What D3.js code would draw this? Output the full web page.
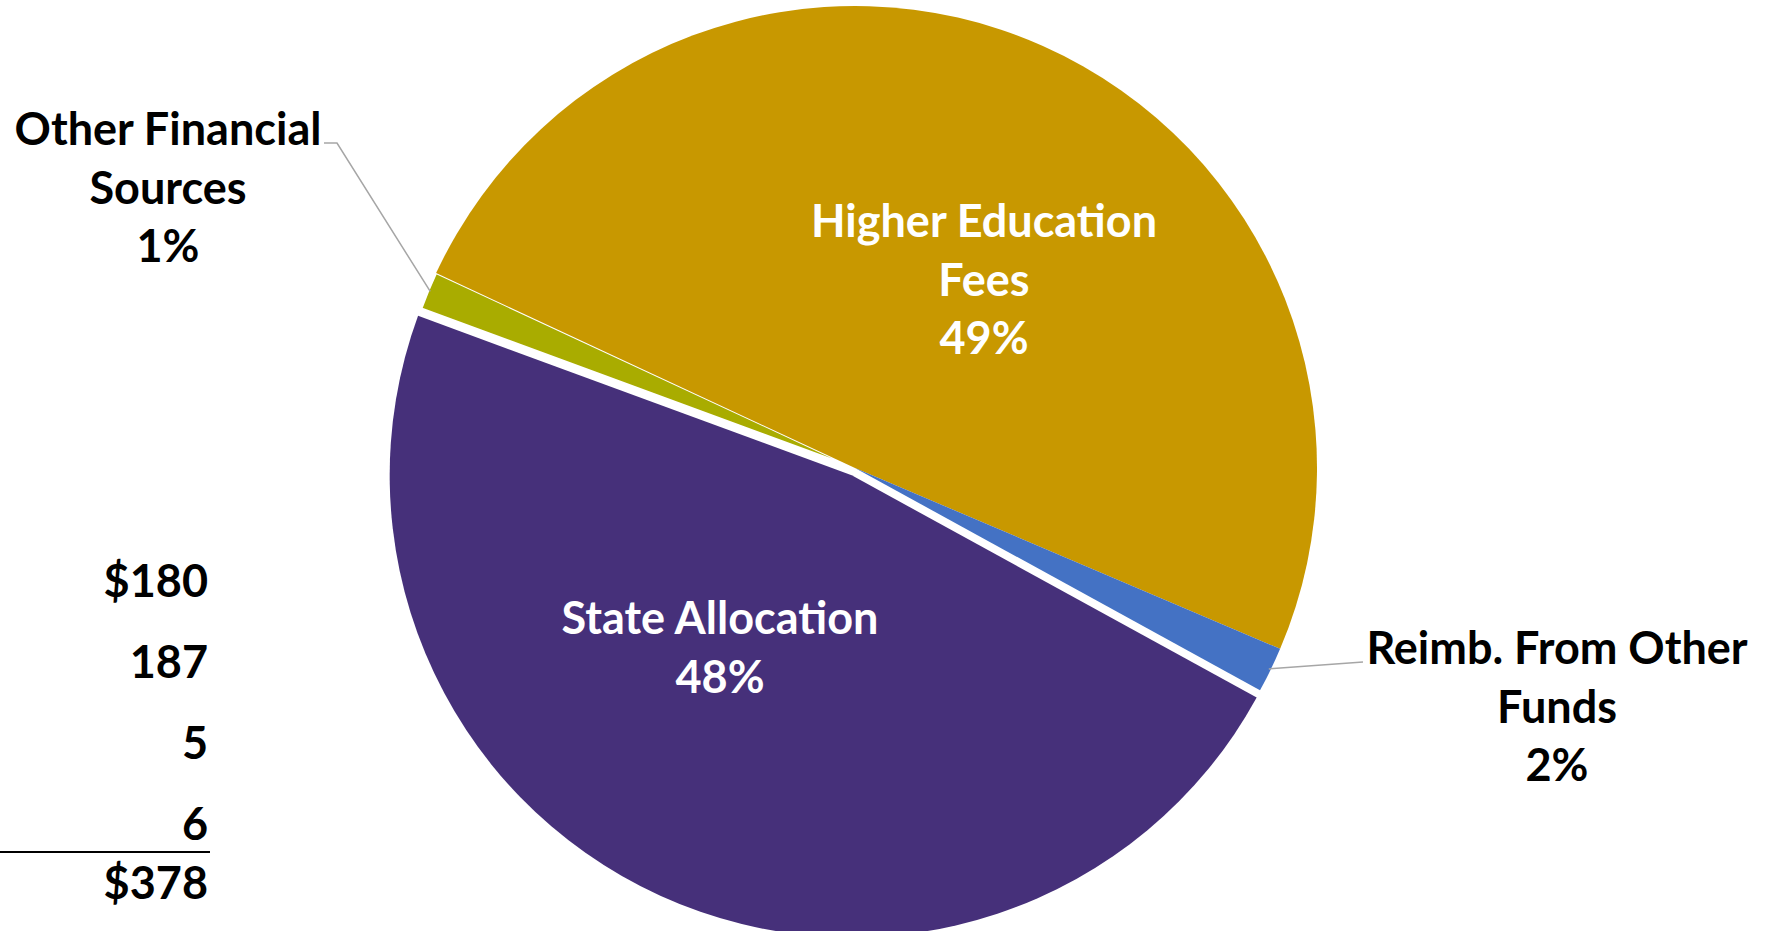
<!DOCTYPE html>
<html>
<head>
<meta charset="utf-8">
<script src="https://cdn.jsdelivr.net/npm/d3@7"></script>
<style>
  html, body { margin: 0; padding: 0; background: #fff; }
  svg { display: block; }
  text { font-family: Lato, "Open Sans", sans-serif; font-weight: 700; }
</style>
</head>
<body>
<svg id="chart" width="1775" height="931"></svg>
<script>
// slices, in drawing order (clockwise from the State Allocation edge)
const categories = ['State Allocation', 'Other Financial Sources', 'Higher Education Fees', 'Reimb. From Other Funds'];
const values = [180, 5, 187, 6];
const colors = ['#46307a', '#a9ac00', '#c89800', '#4472c4'];

// label lines shown for each slice
const labelLines = [
    ['State Allocation'],
    ['Other Financial', 'Sources'],
    ['Higher Education', 'Fees'],
    ['Reimb. From Other', 'Funds'],
];

// the small table on the left: same values, listed in this order
const tableOrder = ['State Allocation', 'Higher Education Fees', 'Other Financial Sources', 'Reimb. From Other Funds'];

const center = { x: 855, y: 468 };
const radius = 462;
const explode = { 'State Allocation': 8 };
const fontSize = 45;
const lineHeight = 58.5;

const total = d3.sum(values);
const fmtPct = d => `${Math.round((d / total) * 100)}%`;

const data = categories.map((name, i) => ({ name, value: values[i], color: colors[i], lines: labelLines[i] }));

const startAngle = (118.76 * Math.PI) / 180;
const pie = d3
    .pie()
    .sort(null)
    .value(d => d.value)
    .startAngle(startAngle)
    .endAngle(startAngle + 2 * Math.PI);

const arc = d3.arc().innerRadius(0).outerRadius(radius);
const arcs = pie(data);

const svg = d3.select('#chart');
const g = svg.append('g').attr('transform', `translate(${center.x},${center.y})`);

function offset(d) {
    const e = explode[d.data.name] || 0;
    const mid = (d.startAngle + d.endAngle) / 2;
    return [e * Math.sin(mid), -e * Math.cos(mid)];
}

g.selectAll('path.slice')
    .data(arcs)
    .join('path')
    .attr('class', 'slice')
    .attr('d', arc)
    .attr('fill', d => d.data.color)
    .attr('stroke', d => (d.data.name === 'Other Financial Sources' ? '#fff' : 'none'))
    .attr('stroke-width', 2)
    .attr('transform', d => `translate(${offset(d)})`);

// label positions (block centre x, first baseline y) in page coords
const labelPos = {
    'State Allocation': { x: 720, y: 634, color: '#fff' },
    'Higher Education Fees': { x: 984, y: 237, color: '#fff' },
    'Other Financial Sources': { x: 168, y: 145, color: '#000' },
    'Reimb. From Other Funds': { x: 1557, y: 664, color: '#000' },
};

// leader lines for the small outside slices
const leaders = {
    'Other Financial Sources': { x: 337, y: 143, elbowX: 324 },
    'Reimb. From Other Funds': { x: 1363, y: 662 },
};

arcs.forEach(d => {
    const l = leaders[d.data.name];
    if (!l) return;
    const mid = (d.startAngle + d.endAngle) / 2;
    const r = radius - 2;
    const px = center.x + r * Math.sin(mid);
    const py = center.y - r * Math.cos(mid);
    const pts = [[px, py], [l.x, l.y]];
    if (l.elbowX != null) pts.push([l.elbowX, l.y]);
    svg.append('path')
        .attr('d', d3.line()(pts))
        .attr('fill', 'none')
        .attr('stroke', '#a6a6a6')
        .attr('stroke-width', 1.5);
});

const labels = svg
    .selectAll('text.label')
    .data(arcs)
    .join('text')
    .attr('class', 'label')
    .attr('text-anchor', 'middle')
    .attr('font-size', fontSize)
    .attr('fill', d => labelPos[d.data.name].color);

labels.each(function (d) {
    const pos = labelPos[d.data.name];
    const lines = d.data.lines.concat([fmtPct(d.data.value)]);
    d3.select(this)
        .selectAll('tspan')
        .data(lines)
        .join('tspan')
        .attr('x', pos.x)
        .attr('y', (t, i) => pos.y + i * lineHeight)
        .text(t => t);
});

// value table on the left
const tableRight = 208;
const rowY = d3.scaleLinear().domain([0, 3]).range([597, 840]);
const tableVals = tableOrder.map(n => values[categories.indexOf(n)]);

svg.selectAll('text.row')
    .data(tableVals)
    .join('text')
    .attr('class', 'row')
    .attr('text-anchor', 'end')
    .attr('font-size', fontSize)
    .attr('fill', '#000')
    .attr('x', tableRight)
    .attr('y', (d, i) => rowY(i))
    .text((d, i) => (i === 0 ? `$${d}` : `${d}`));

svg.append('line')
    .attr('x1', 0)
    .attr('x2', 210)
    .attr('y1', 852)
    .attr('y2', 852)
    .attr('stroke', '#000')
    .attr('stroke-width', 2);

svg.append('text')
    .attr('text-anchor', 'end')
    .attr('font-size', fontSize)
    .attr('fill', '#000')
    .attr('x', tableRight)
    .attr('y', 899)
    .text(`$${total}`);
</script>
</body>
</html>
